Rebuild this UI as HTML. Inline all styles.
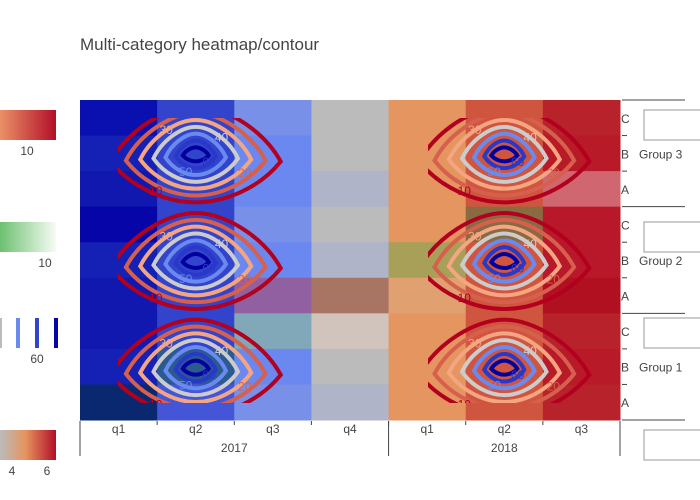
<!DOCTYPE html>
<html><head><meta charset="utf-8"><style>
body{margin:0;background:#fff;}
svg{display:block;font-family:"Liberation Sans","DejaVu Sans",sans-serif;}
</style></head><body>
<svg id="chart" width="700" height="500" xmlns="http://www.w3.org/2000/svg">
<defs>
<linearGradient id="gRed" x1="0" x2="1"><stop offset="0" stop-color="#ea9168"/><stop offset="1" stop-color="#b20f28"/></linearGradient>
<linearGradient id="gGreen" x1="0" x2="1"><stop offset="0" stop-color="#6cc070"/><stop offset="1" stop-color="#f7fcf5"/></linearGradient>
<linearGradient id="gMix" x1="0" x2="1"><stop offset="0" stop-color="#bbbbbb"/><stop offset="0.45" stop-color="#e6955f"/><stop offset="1" stop-color="#b20f28"/></linearGradient>
<clipPath id="clipL"><rect x="118" y="118" width="165" height="285"/></clipPath>
<clipPath id="clipR"><rect x="428" y="118" width="175" height="285"/></clipPath>
</defs>
<text x="80" y="50" font-size="17" fill="#444">Multi-category heatmap/contour</text>
<g id="heat"></g>
<g id="contours"></g>
<g id="axes"></g>

<g><rect x="0" y="110" width="56" height="30" fill="url(#gRed)"/><text x="27" y="155" font-size="12" fill="#444" text-anchor="middle">10</text></g>
<g><rect x="0" y="222" width="56" height="30" fill="url(#gGreen)"/><text x="45" y="267" font-size="12" fill="#444" text-anchor="middle">10</text></g>
<g>
<rect x="0" y="318" width="2" height="30" fill="#bbbbbb"/><rect x="16" y="318" width="4" height="30" fill="#6a8af0"/><rect x="35" y="318" width="4" height="30" fill="#3344cc"/><rect x="54" y="318" width="4" height="30" fill="#0505a8"/>
<text x="37" y="363" font-size="12" fill="#444" text-anchor="middle">60</text></g>
<g><rect x="0" y="430" width="56" height="30" fill="url(#gMix)"/>
<text x="12" y="475" font-size="12" fill="#444" text-anchor="middle">4</text><text x="47" y="475" font-size="12" fill="#444" text-anchor="middle">6</text></g>

<g fill="none" stroke="#999" stroke-width="1">
<path d="M701 110 H644 V140 H701"/><path d="M701 222 H644 V252 H701"/><path d="M701 318 H644 V348 H701"/><path d="M701 430 H644 V460 H701"/>
</g>
</svg>
<script>
const NS="http://www.w3.org/2000/svg";
const years=["2017","2017","2017","2017","2018","2018","2018"];
const quarters=["q1","q2","q3","q4","q1","q2","q3"];
const groups=["Group 3","Group 2","Group 1"];
const subs=["C","B","A"];
const cellColors=[
["#0a10b0","#3344cc","#7890e8","#bbbbbb","#e59560","#d0553e","#b8222a"],
["#1520b5","#3344cc","#6a88f0","#bbbbbb","#e59560","#d0553e","#b81a28"],
["#1018b0","#3344cc","#6a88f0","#b0b4c8","#e59560","#d0553e","#d06670"],
["#0505a8","#3344cc","#7890e8","#bbbbbb","#e59560","#8a6a40","#b8182a"],
["#1520b5","#3344cc","#6a88f0","#b0b4c8","#a8a058","#d0553e","#b8182a"],
["#1018b0","#3344cc","#9060a0","#a87565","#e0a070","#d0553e","#b01020"],
["#1018b0","#3344cc","#80a8b8","#d0c4bc","#e59560","#d0553e","#b8222a"],
["#1520b5","#2a5a90","#6a88f0","#bbbbbb","#e59560","#d0553e","#b81a28"],
["#0a2870","#4455d8","#7890e8","#b0b4c8","#e59560","#d0553e","#b8222a"]];
const contourLevels=[10,20,30,40,50,60,70];
const contourColors=["#b2001e","#d6604d","#f4a582","#cccccc","#6a8af0","#2838c8","#0000a0"];
const labelLevels=[10,20,30,40,50,60];
const centersX=[1,5];
const centersY=[1,4,7];

const X0=80,X1=620,Y0=100,Y1=420;
const cw=(X1-X0)/quarters.length, rh=(Y1-Y0)/cellColors.length;
const xc=i=>X0+cw*(i+0.5), yr=r=>Y0+rh*(r+0.5);
const heat=document.getElementById('heat');
cellColors.forEach((row,r)=>row.forEach((c,i)=>{
  const e=document.createElementNS(NS,'rect');
  e.setAttribute('x',X0+cw*i);e.setAttribute('y',Y0+rh*r);
  e.setAttribute('width',cw+0.5);e.setAttribute('height',rh+0.5);e.setAttribute('fill',c);
  
  
  heat.appendChild(e);
}));
function sz(lv){const t=(70-lv)/60;return {w:13+72*Math.pow(t,1.3),h:7+41*t};}
const cg=document.getElementById('contours');
centersX.forEach((ci,k)=>{
  const g=document.createElementNS(NS,'g');
  g.setAttribute('clip-path',k?'url(#clipR)':'url(#clipL)');
  
  
  cg.appendChild(g);
  centersY.forEach(ri=>{
    const cx=xc(ci), cy=yr(ri)+1;
    contourLevels.forEach((lv,j)=>{
      const {w,h}=sz(lv);
      const p=document.createElementNS(NS,'path');
      p.setAttribute('d',`M${cx-w},${cy+h*0.15} C${cx-w*0.8},${cy-h*0.5} ${cx-w*0.35},${cy-h} ${cx},${cy-h} C${cx+w*0.35},${cy-h} ${cx+w*0.8},${cy-h*0.5} ${cx+w},${cy+h*0.15} C${cx+w*0.75},${cy+h*0.7} ${cx+w*0.35},${cy+h} ${cx},${cy+h} C${cx-w*0.35},${cy+h} ${cx-w*0.75},${cy+h*0.7} ${cx-w},${cy+h*0.15}Z`);
      p.setAttribute('fill','none');p.setAttribute('stroke',contourColors[j]);p.setAttribute('stroke-width',4);
      
      
      g.appendChild(p);
    });
    labelLevels.forEach((lv,q)=>{
      const {w,h}=sz(lv);
      const ang=[2.2,0.5,-2.3,-0.7,2.0,0.6][q];
      const tx=document.createElementNS(NS,'text');
      tx.setAttribute('x',cx+Math.cos(ang)*w*0.8);tx.setAttribute('y',cy+Math.sin(ang)*h*0.95+4);
      tx.setAttribute('font-size',12);tx.setAttribute('text-anchor','middle');
      tx.setAttribute('fill',contourColors[contourLevels.indexOf(lv)]);
      tx.textContent=String(lv);
      
      
      g.appendChild(tx);
    });
  });
});
const ax=document.getElementById('axes');
function add(tag,attrs,name,text){const e=document.createElementNS(NS,tag);for(const k in attrs)e.setAttribute(k,attrs[k]);
  
  
  if(text)e.textContent=text;ax.appendChild(e);return e;}
quarters.forEach((q,i)=>{
  add('text',{x:xc(i),y:433,'font-size':12,fill:'#444','text-anchor':'middle'},'x-tick-label',q);
  if(i>0)add('line',{x1:X0+cw*i,x2:X0+cw*i,y1:421,y2:425,stroke:'#444'},'x-tick');
});
add('text',{x:X0+cw*2,y:452,'font-size':12,fill:'#444','text-anchor':'middle'},'x-year-label',years[0]);
add('text',{x:X0+cw*5.5,y:452,'font-size':12,fill:'#444','text-anchor':'middle'},'x-year-label',years[4]);
[X0,X0+cw*4,X1].forEach(x=>add('line',{x1:x,x2:x,y1:421,y2:456,stroke:'#444'},'x-divider'));
groups.forEach((g,gi)=>{
  subs.forEach((s,si)=>{
    const r=gi*3+si;
    add('text',{x:621,y:yr(r)+5,'font-size':12,fill:'#444'},'y-tick-label',s);
    if(si<2)add('line',{x1:622,x2:627,y1:Y0+rh*(r+1),y2:Y0+rh*(r+1),stroke:'#444'},'y-tick');
  });
  add('text',{x:639,y:yr(gi*3+1)+5,'font-size':12,fill:'#444'},'y-group-label',g);
});
[0,3,6,9].forEach(r=>add('line',{x1:622,x2:685,y1:Y0+rh*r,y2:Y0+rh*r,stroke:'#444'},'y-divider'));
</script>
</body></html>
